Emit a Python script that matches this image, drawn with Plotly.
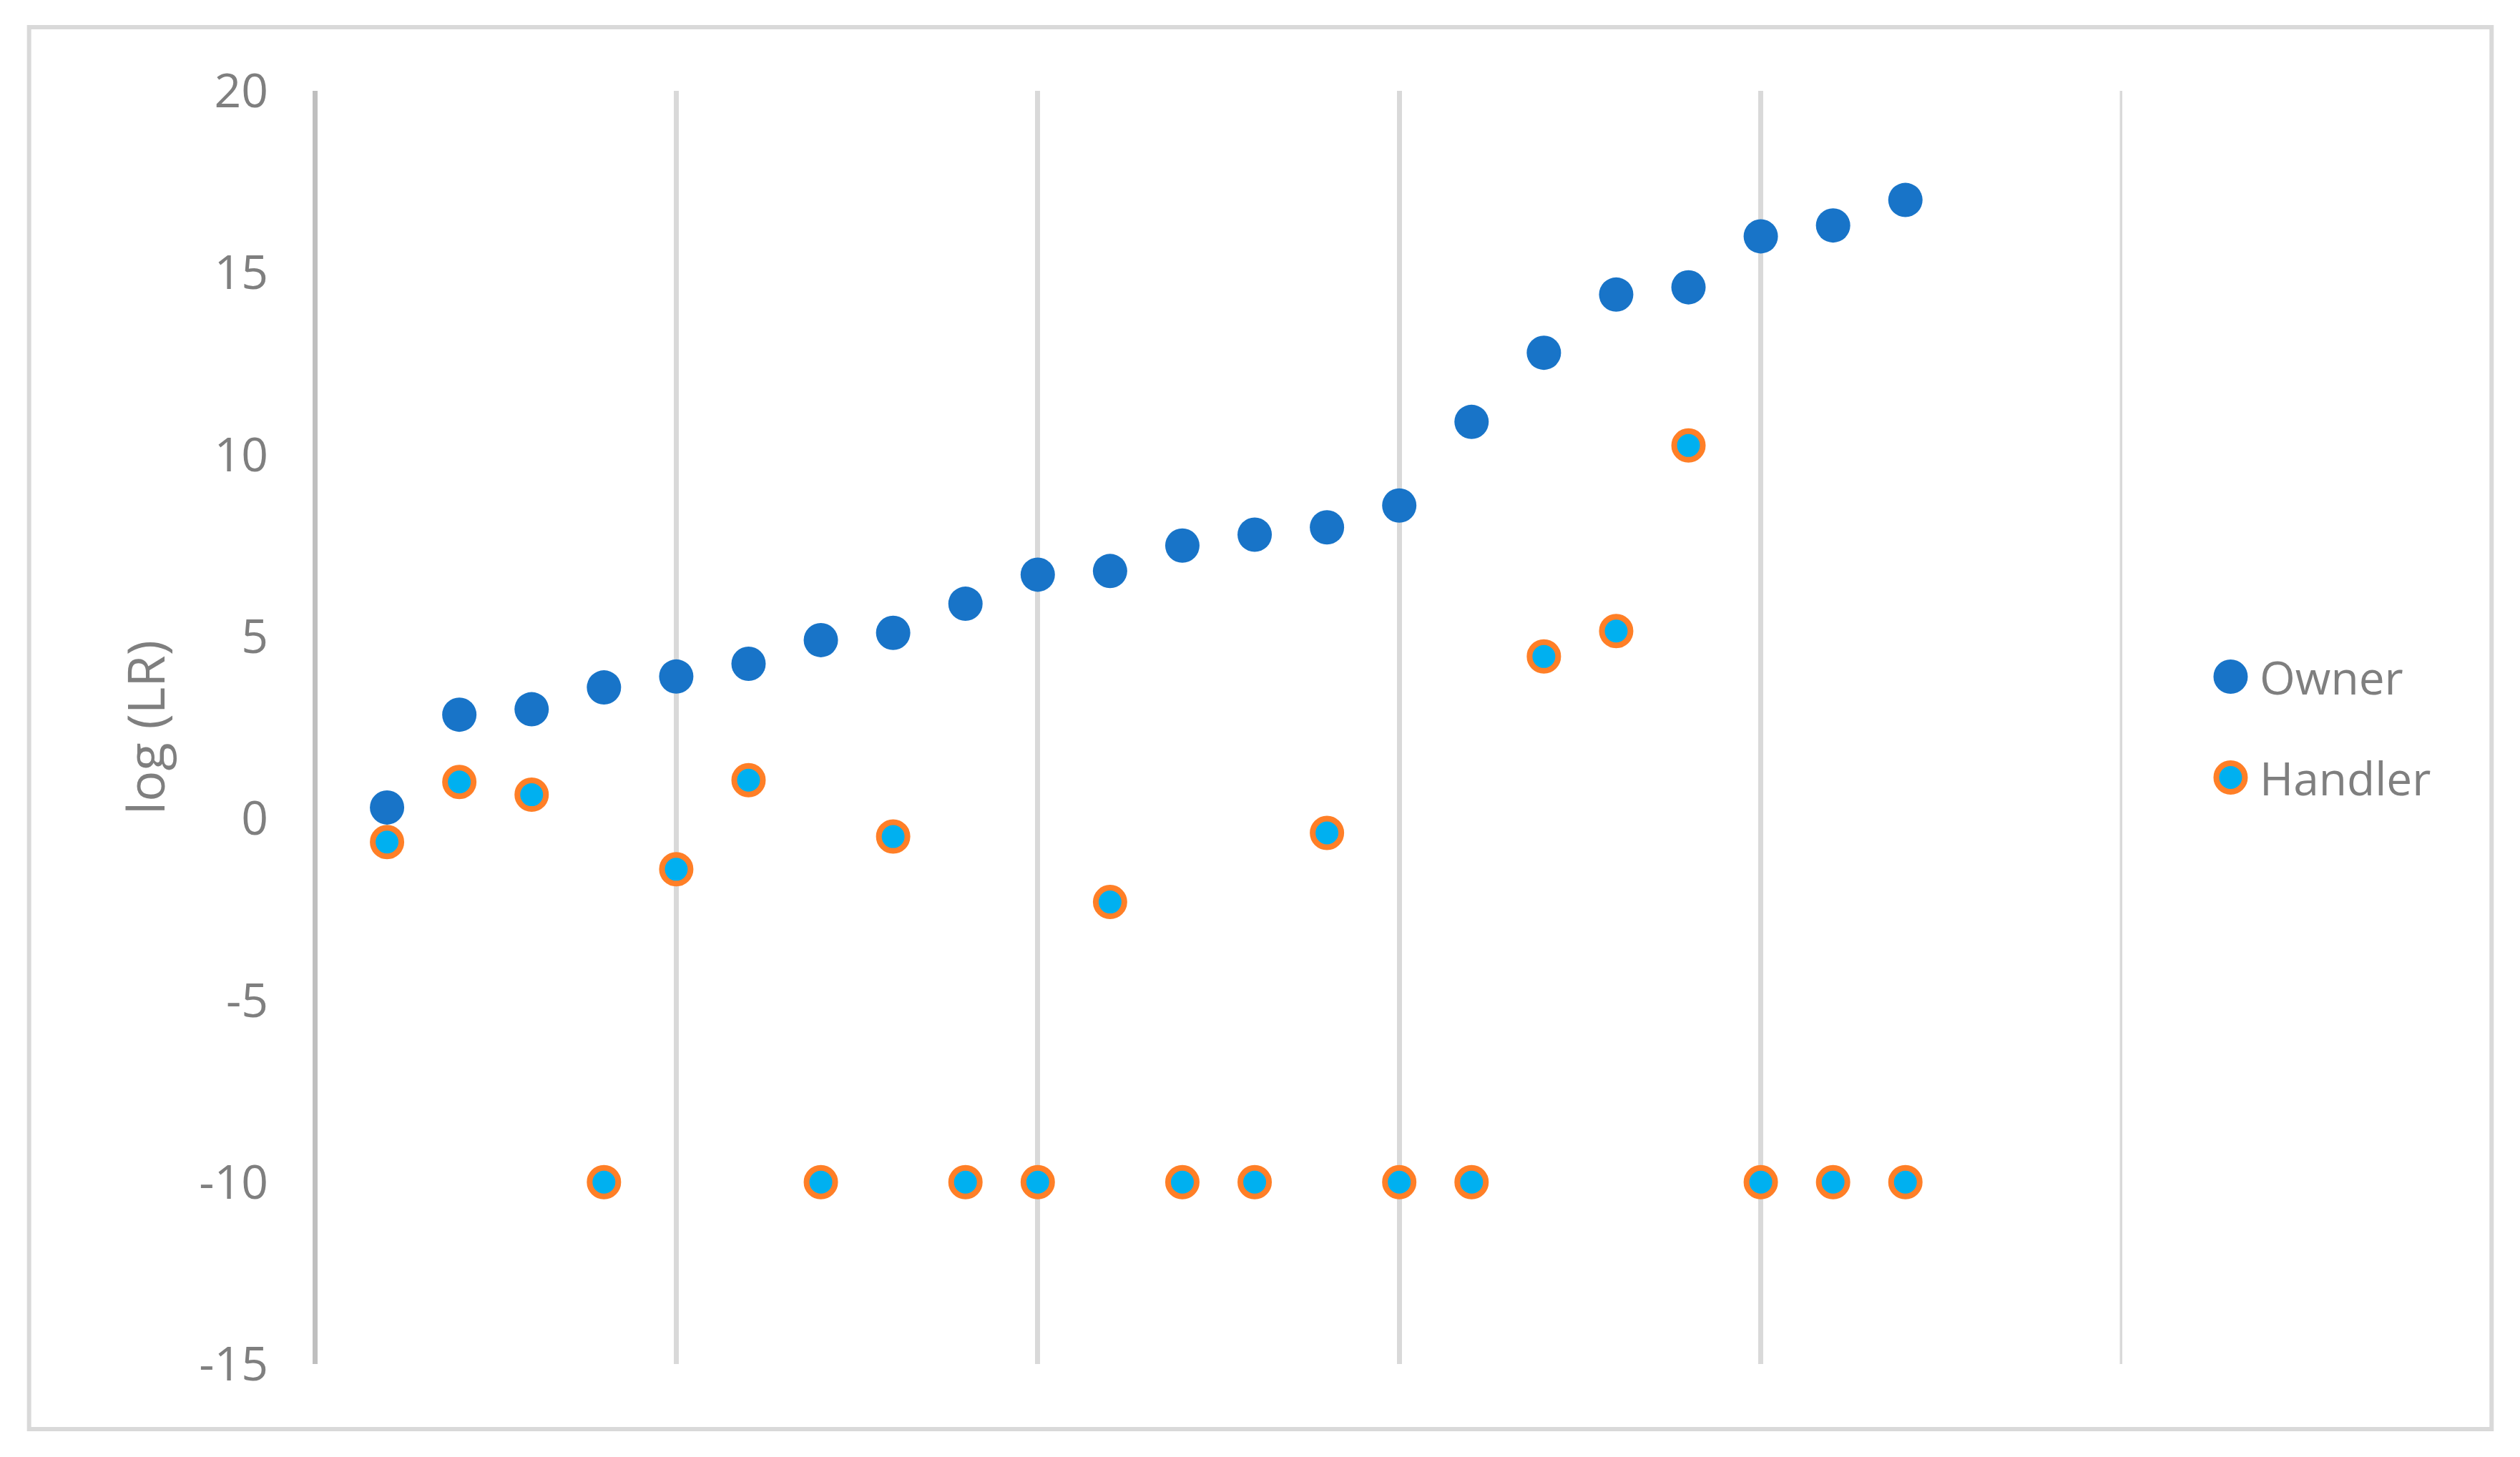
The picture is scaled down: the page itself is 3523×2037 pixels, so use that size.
import plotly.graph_objects as go

# sample index along the x axis
sample = list(range(1, 23))

owner = [0.3, 2.85, 3.0, 3.6, 3.9, 4.25, 4.9, 5.1, 5.9, 6.7, 6.8,
         7.5, 7.8, 8.0, 8.6, 10.9, 12.8, 14.4, 14.6, 16.0, 16.3, 17.0]

handler = [-0.65, 1.0, 0.65, -10, -1.4, 1.05, -10, -0.5, -10, -10, -2.3,
           -10, -10, -0.4, -10, -10, 4.45, 5.15, 10.25, -10, -10, -10]

y_ticks = [-15, -10, -5, 0, 5, 10, 15, 20]
y_tick_text = ["-15", "-10", "-5", "0", "5", "10", "15", "20"]

series_names = ["Owner", "Handler"]

W, H = 3523, 2037
PAGE_PAD = 8  # body margin of the html page
# plot area in page pixels
X0, X1 = 439.5, 2967.5
Y0, Y1 = 127, 1907
PW, PH = X1 - X0, Y1 - Y0
L, T = X0 - PAGE_PAD, Y0 - PAGE_PAD
R, B = W - L - PW, H - T - PH

FONT = "Open Sans"
GREY = "#7f7f7f"
GRID = "#d9d9d9"
OWNER_BLUE = "#1874c8"
HANDLER_FILL = "#00b0f0"
HANDLER_EDGE = "#ff7f27"


def px_x(p):
    return (p - X0) / PW


def px_y(p):
    return (Y1 - p) / PH


fig = go.Figure()

fig.add_trace(go.Scatter(
    x=sample, y=owner, mode="markers", name=series_names[0],
    marker=dict(size=48, color=OWNER_BLUE, line=dict(width=0)),
    showlegend=False,
))

fig.add_trace(go.Scatter(
    x=sample, y=handler, mode="markers", name=series_names[1],
    marker=dict(size=40, color=HANDLER_FILL,
                line=dict(width=8, color=HANDLER_EDGE)),
    showlegend=False,
))

shapes = [
    # outer chart border
    dict(type="rect", xref="paper", yref="paper",
         x0=px_x(40), x1=px_x(3484), y0=px_y(1998), y1=px_y(38),
         line=dict(color=GRID, width=6), fillcolor="rgba(0,0,0,0)",
         layer="below"),
    # gridline on the right edge (plotly skips gridlines at the range ends)
    dict(type="line", xref="x", yref="paper", x0=25, x1=25, y0=0, y1=1,
         line=dict(color=GRID, width=7), layer="below"),
]

# hand-made legend (plotly caps legend marker size)
legend_y = [946, 1087]
annotations = []
for i, name in enumerate(series_names):
    if i == 0:
        fill, edge, lw, d = OWNER_BLUE, OWNER_BLUE, 0, 48
    else:
        fill, edge, lw, d = HANDLER_FILL, HANDLER_EDGE, 8, 40
    shapes.append(dict(
        type="circle", xref="paper", yref="paper",
        xsizemode="pixel", ysizemode="pixel",
        xanchor=px_x(3119), yanchor=px_y(legend_y[i]),
        x0=-d / 2, x1=d / 2, y0=-d / 2, y1=d / 2,
        fillcolor=fill, line=dict(color=edge, width=lw),
    ))
    annotations.append(dict(
        text=name, xref="paper", yref="paper",
        x=px_x(3158), y=px_y(legend_y[i]), xanchor="left", yanchor="middle",
        showarrow=False, font=dict(family=FONT, size=64, color=GREY),
    ))

fig.update_layout(
    width=W, height=H,
    margin=dict(l=L, r=R, t=T, b=B),
    paper_bgcolor="white", plot_bgcolor="white",
    showlegend=False,
    shapes=shapes, annotations=annotations,
    xaxis=dict(
        range=[0, 25], dtick=5, tick0=0,
        showgrid=True, gridcolor=GRID, gridwidth=7,
        zeroline=True, zerolinecolor="#bfbfbf", zerolinewidth=7,
        showline=False, showticklabels=False, ticks="",
    ),
    yaxis=dict(
        range=[-15, 20], tickvals=y_ticks, ticktext=y_tick_text,
        showgrid=False, zeroline=False, showline=False,
        ticks="", ticklen=0, ticklabelstandoff=64,
        tickfont=dict(family=FONT, size=66, color=GREY),
        automargin=False,
        title=dict(text="log (LR)", standoff=24,
                   font=dict(family=FONT, size=72, color=GREY)),
    ),
)

fig.write_html("out.html")
